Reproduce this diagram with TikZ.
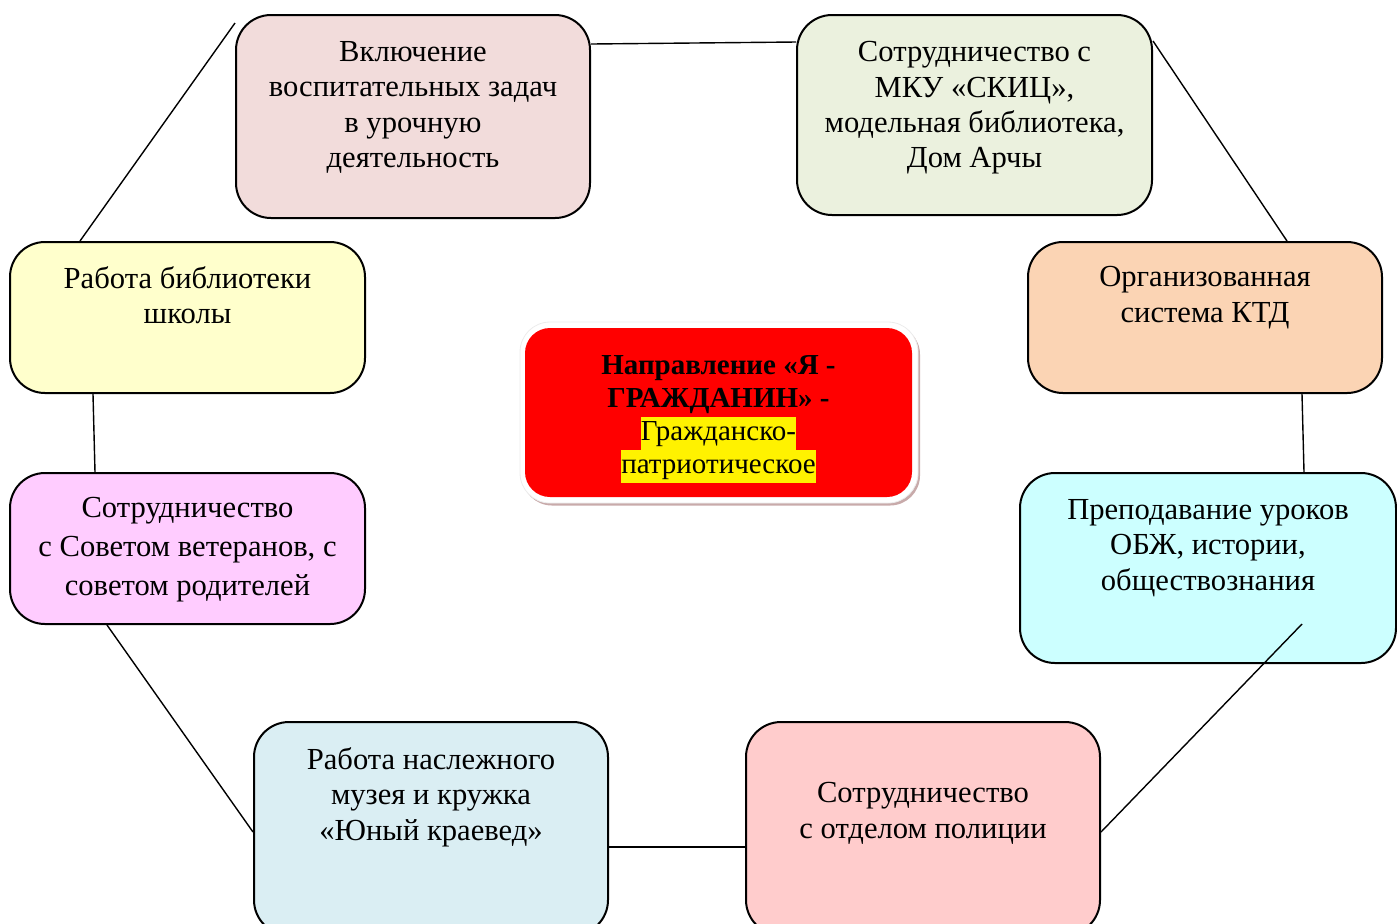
\documentclass[tikz,border=0pt]{standalone}
\usepackage{fontspec}
\setmainfont{Liberation Serif}
\usepackage{xcolor}
\definecolor{inclfill}{HTML}{F2DCDB}
\definecolor{skicfill}{HTML}{EBF1DE}
\definecolor{ktdfill}{HTML}{FBD4B4}
\definecolor{obzhfill}{HTML}{CCFFFF}
\definecolor{policefill}{HTML}{FFCCCC}
\definecolor{museumfill}{HTML}{DAEEF3}
\definecolor{vetfill}{HTML}{FFCCFF}
\definecolor{libfill}{HTML}{FFFFCC}
\definecolor{shadowfill}{HTML}{C8AAAA}
\newcommand{\hl}[1]{{\setlength{\fboxsep}{0pt}\colorbox{yellow}{\strut #1}}}

\begin{document}
\begin{tikzpicture}[x=0.5pt,y=-0.5pt,
    box/.style={draw, line width=1pt, rounded corners=17.5pt, inner sep=0pt},
    txt/.style={anchor=north, align=center, inner sep=0pt, font=\fontsize{15.3}{17.7}\selectfont},
    link/.style={line width=0.7pt}]
        \useasboundingbox (0,0) rectangle (1397,923);
        \clip (0,0) rectangle (1397,923);
        % outer boxes
        \node [box, fill=inclfill, minimum width=177pt, minimum height=101.5pt] (incl) at (413,116.5) {};
        \node [box, fill=skicfill, minimum width=177.5pt, minimum height=100pt] (skic) at (974.5,115) {};
        \node [box, fill=ktdfill, minimum width=177pt, minimum height=75.5pt] (ktd) at (1205,317.5) {};
        \node [box, fill=obzhfill, minimum width=188pt, minimum height=95pt] (obzh) at (1208,568) {};
        \node [box, fill=policefill, minimum width=177pt, minimum height=106.5pt] (police) at (923,828.5) {};
        \node [box, fill=museumfill, minimum width=177pt, minimum height=106.5pt] (museum) at (431,828.5) {};
        \node [box, fill=vetfill, minimum width=177.5pt, minimum height=75.5pt] (vet) at (187.5,548.5) {};
        \node [box, fill=libfill, minimum width=177.5pt, minimum height=75.5pt] (lib) at (187.5,317.5) {};
        % texts
        \node [txt] (incltxt) at ([yshift=-13.5pt]incl.north) {Включение\\воспитательных задач\\в урочную\\деятельность};
        \node [txt] (skictxt) at ([yshift=-13.5pt]skic.north) {Сотрудничество с\\МКУ «СКИЦ»,\\модельная библиотека,\\Дом Арчы};
        \node [txt] (ktdtxt) at ([yshift=-12.5pt]ktd.north) {Организованная\\система КТД};
        \node [txt] (obzhtxt) at ([yshift=-13.5pt]obzh.north) {Преподавание уроков\\ОБЖ, истории,\\обществознания};
        \node [txt] (policetxt) at ([yshift=-30.5pt]police.north) {Сотрудничество\\с отделом полиции};
        \node [txt] (museumtxt) at ([yshift=-13pt]museum.north) {Работа наслежного\\музея и кружка\\«Юный краевед»};
        \node [txt, font=\fontsize{15.3}{19.5}\selectfont] (vettxt) at ([yshift=-12.5pt]vet.north) {Сотрудничество\\с Советом ветеранов, с\\советом родителей};
        \node [txt] (libtxt) at ([yshift=-12.5pt]lib.north) {Работа библиотеки\\школы};
        % centre
        \node [rounded corners=15pt, fill=shadowfill, minimum width=199pt, minimum height=90.5pt] (shadow) at (721,415) {};
        \node [rounded corners=15pt, fill=white, draw=gray!15, minimum width=199pt, minimum height=90.5pt] (frame) at (719,412.5) {};
        \node [rounded corners=12.5pt, fill=red, minimum width=193.5pt, minimum height=84.5pt] (main) at (718.5,412.5) {};
        \node [txt, anchor=center, font=\fontsize{14.5}{16.5}\selectfont] (maintxt) at ([yshift=-3.5pt]main.center)
            {\textbf{Направление «Я -}\\\textbf{ГРАЖДАНИН» -}\\\hl{Гражданско-}\\\hl{патриотическое}};
        % connectors
        \coordinate (obzhend) at (1302,624);
        \draw [link] ([yshift=-15pt]incl.north east) -- ([yshift=-14pt]skic.north west);
        \draw [link] ([yshift=-13.5pt]skic.north east) -- ([xshift=41pt]ktd.north);
        \draw [link] ([xshift=48.5pt]ktd.south) -- ([xshift=48pt]obzh.north);
        \draw [link] (obzhend) -- ([yshift=-55.5pt]police.north east);
        \draw [link] ([yshift=-63pt]police.north west) -- ([yshift=-63pt]museum.north east);
        \draw [link] ([yshift=-55.5pt]museum.north west) -- ([xshift=-40.25pt]vet.south);
        \draw [link] ([xshift=-46.25pt]vet.north) -- ([xshift=-47.25pt]lib.south);
        \draw [link] ([xshift=-53.75pt]lib.north) -- ([yshift=-4.5pt]incl.north west);
\end{tikzpicture}
\end{document}
